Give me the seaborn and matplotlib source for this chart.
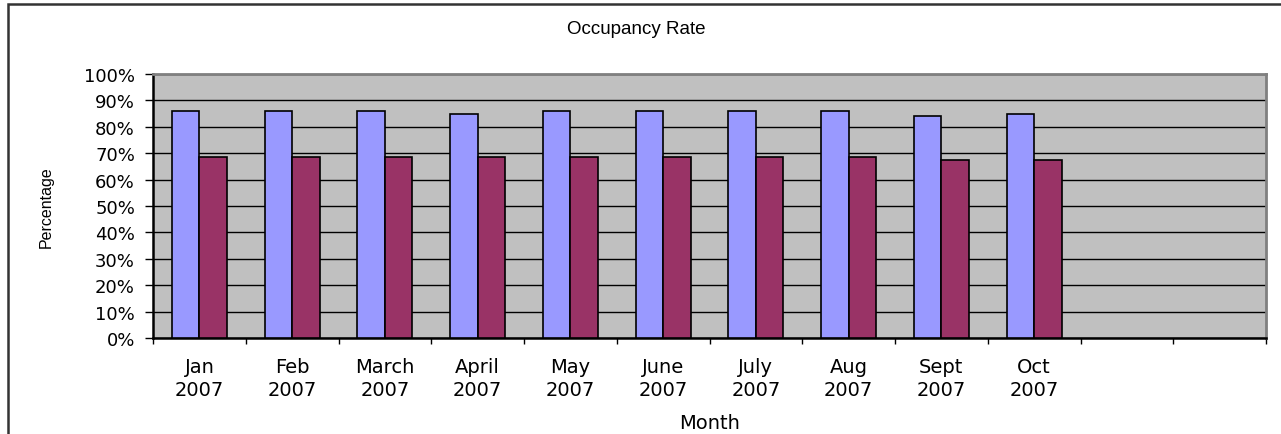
import matplotlib
matplotlib.use("Agg")
import matplotlib.pyplot as plt
import matplotlib.patches as mpatches
import seaborn as sns
import pandas as pd
import numpy as np

# ---- data ----
months = ["Jan\n2007", "Feb\n2007", "March\n2007", "April\n2007", "May\n2007",
          "June\n2007", "July\n2007", "Aug\n2007", "Sept\n2007", "Oct\n2007"]
empty_slots = ["", ""]
series_a = [86, 86, 86, 85, 86, 86, 86, 86, 84, 85]
series_b = [68.5, 68.5, 68.5, 68.5, 68.5, 68.5, 68.5, 68.5, 67.6, 67.6]
series_names = ["Series A", "Series B"]
y_ticks = [0, 10, 20, 30, 40, 50, 60, 70, 80, 90, 100]
y_tick_labels = [f"{v}%" for v in y_ticks]

slot_keys = [f"m{i}" for i in range(len(months) + len(empty_slots))]
slot_labels = months + empty_slots

df = pd.DataFrame({
    "slot": slot_keys[:len(months)] * 2,
    "value": series_a + series_b,
    "series": [series_names[0]] * len(months) + [series_names[1]] * len(months),
})

sns.set_style("white")
plt.rcParams["font.family"] = ["DejaVu Sans"]
plt.rcParams["text.color"] = "black"
plt.rcParams["axes.labelcolor"] = "black"
plt.rcParams["xtick.color"] = "black"
plt.rcParams["ytick.color"] = "black"

W, H = 1281, 435
fig = plt.figure(figsize=(W / 100, H / 100), dpi=100)
fig.patch.set_facecolor("white")

left, right, top, bottom = 153, 1266, 75, 339
ax = fig.add_axes([left / W, 1 - bottom / H, (right - left) / W, (bottom - top) / H])
ax.set_facecolor("#C0C0C0")

sns.barplot(data=df, x="slot", y="value", hue="series", order=slot_keys,
            hue_order=series_names, palette=["#9999FF", "#993366"],
            width=0.593, saturation=1, edgecolor="black", linewidth=1.2,
            legend=False, ax=ax, zorder=3)

ax.set_xlim(-0.5, len(slot_keys) - 0.5)
ax.set_ylim(0, 100)

# y axis
ax.set_yticks(y_ticks)
ax.set_yticklabels(y_tick_labels, fontsize=13, color="black")
ax.yaxis.grid(True, color="black", linewidth=1.0, zorder=0)
ax.set_axisbelow(True)
ax.tick_params(axis="y", direction="out", length=6, width=1, color="black", pad=7, left=True)

# x axis: ticks on boundaries, labels in centres
ax.set_xticks(np.arange(-0.5, len(slot_keys), 1.0))
ax.set_xticklabels([])
ax.set_xticks(np.arange(len(slot_keys)), minor=True)
ax.set_xticklabels(slot_labels, minor=True, fontsize=14, linespacing=1.25, color="black")
ax.tick_params(axis="x", which="major", direction="out", length=4, width=1, color="black", bottom=True)
ax.tick_params(axis="x", which="minor", length=0, pad=14)

ax.set_xlabel("Month", fontsize=14, labelpad=10, color="black")
ax.set_ylabel("Percentage", fontsize=11.5, family=["Liberation Sans"], labelpad=22, color="black")

for s in ["left", "bottom"]:
    ax.spines[s].set_color("black")
    ax.spines[s].set_linewidth(1.8)
for s in ["top", "right"]:
    ax.spines[s].set_color("#808080")
    ax.spines[s].set_linewidth(2)

fig.text(636 / W, 1 - 30 / H, "Occupancy Rate", ha="center", va="center",
         fontsize=13.5, family=["Liberation Sans"], color="black")

# outer chart border (left and top edges visible)
fig.patches.append(mpatches.Rectangle((8 / W, -0.2), 1.5, 1.2 - 4.5 / H,
                                      transform=fig.transFigure, fill=False,
                                      edgecolor="#333333", linewidth=1.8))

fig.savefig("out.png", dpi=100)
